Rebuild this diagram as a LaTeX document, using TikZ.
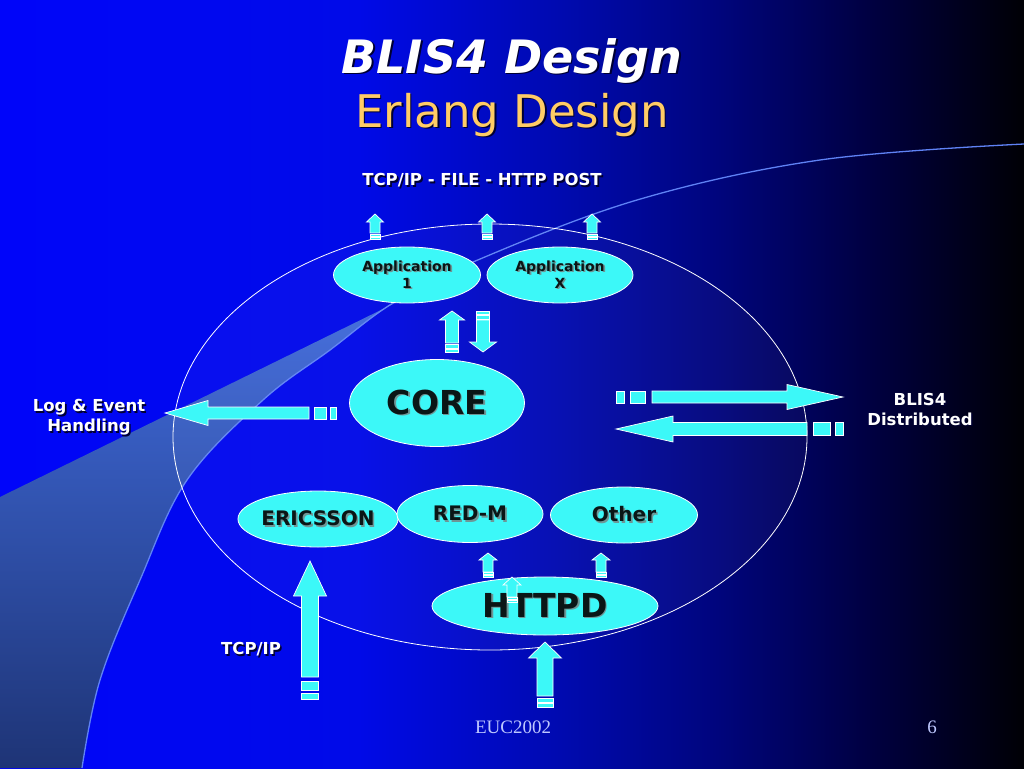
\documentclass[tikz,border=0pt]{standalone}
\usepackage{fontspec}
\setmainfont{DejaVu Sans}
\newfontfamily\footfont{Liberation Serif}
\usetikzlibrary{shapes.geometric}
\definecolor{bgA}{RGB}{0,5,250}
\definecolor{bgB}{RGB}{0,10,232}
\definecolor{bgC}{RGB}{0,10,175}
\definecolor{bgD}{RGB}{0,5,125}
\definecolor{bgE}{RGB}{0,0,65}
\definecolor{bgF}{RGB}{0,0,5}
\definecolor{bandtop}{RGB}{66,110,225}
\definecolor{bandmid}{RGB}{44,78,178}
\definecolor{bandbot}{RGB}{30,52,118}
\definecolor{swline}{RGB}{95,130,245}
\definecolor{cyfill}{RGB}{60,248,248}
\definecolor{nodetext}{RGB}{10,22,22}
\definecolor{nodeshd}{RGB}{110,150,150}
\definecolor{labshd}{RGB}{0,0,50}
\definecolor{gold}{RGB}{255,204,102}
\definecolor{footc}{RGB}{190,200,255}
\pgfdeclarehorizontalshading{bgshade}{100bp}{color(0bp)=(bgA); color(25bp)=(bgA); color(42.5bp)=(bgB); color(52.5bp)=(bgC); color(60bp)=(bgD); color(67.5bp)=(bgE); color(75bp)=(bgF); color(100bp)=(bgF)}
\newcommand\myshd[2]{\leavevmode\rlap{\kern1.6pt\raisebox{-1.6pt}{\textcolor{#1}{#2}}}#2}
\newcommand\fApp{\fontsize{14}{17}\selectfont\bfseries}
\newcommand\fMid{\fontsize{20}{24}\selectfont\bfseries}
\newcommand\fBig{\fontsize{33}{40}\selectfont\bfseries}
\newcommand\fLab{\fontsize{16.5}{20}\selectfont\bfseries}
\tikzset{
  arrowsty/.style={fill=cyfill, draw=white, line width=0.7pt},
  cy/.style={ellipse, draw=white, line width=0.8pt, fill=cyfill, inner sep=0pt, text=nodetext, align=center},
  lab/.style={text=white, font=\fLab, align=center, inner sep=0pt},
  pics/barr/.style n args={8}{code={
    \path[arrowsty] (0,-#2/2) -- ({#1-#4},-#2/2) -- ({#1-#4},-#3/2) -- (#1,0) -- ({#1-#4},#3/2) -- ({#1-#4},#2/2) -- (0,#2/2) -- cycle;
    \path[arrowsty] ({-#5-#6},-#2/2) rectangle ({-#5},#2/2);
    \path[arrowsty] ({-#5-#6-#7-#8},-#2/2) rectangle ({-#5-#6-#7},#2/2);
  }}
}
\begin{document}
\begin{tikzpicture}[x=1pt,y=-1pt]
\useasboundingbox (0,0) rectangle (1024,768);
\shade[shading=bgshade] (0,0) rectangle (1024,768);
% swoosh band
\shade[top color=bandtop, middle color=bandmid, bottom color=bandbot] (0,497) -- (440,281) -- plot[smooth, tension=0.6] coordinates {(440,281) (393,303) (330,350) (263,400) (187,480) (140,580) (100,680) (82,768)} -- (0,768) -- cycle;
\draw[swline, line width=1.3pt] plot[smooth, tension=0.6] coordinates {(82,768) (100,680) (140,580) (187,480) (263,400) (330,350) (393,303) (473,262) (637,200) (820,160) (1024,144)};
% big ellipse
\node[ellipse, draw=white, line width=0.8pt, minimum width=634pt, minimum height=426pt, fill=white, fill opacity=0.03, inner sep=0pt] (outer) at (490,437) {};
% title
\node[anchor=base, text=white, font=\fontsize{46}{55}\selectfont\bfseries\itshape, inner sep=0pt] (title1) at (512,73) {\myshd{labshd}{BLIS4 Design}};
\node[anchor=base, text=gold, font=\fontsize{45}{54}\selectfont, inner sep=0pt] (title2) at (512,127) {\myshd{labshd}{Erlang Design}};
% labels
\node[lab] (tcptop) at (482,181) {\myshd{labshd}{TCP/IP - FILE - HTTP POST}};
\node[lab] (logl) at (89,418) {\myshd{labshd}{Log \& Event}\\\myshd{labshd}{Handling}};
\node[lab] (blisl) at (920,410) {\myshd{labshd}{BLIS4}\\\myshd{labshd}{Distributed}};
\node[lab] (tcpl) at (251,650) {\myshd{labshd}{TCP/IP}};
% nodes
\node[cy, minimum width=147pt, minimum height=56pt, font=\fApp] (app1) at (407,275) {\myshd{nodeshd}{Application}\\\myshd{nodeshd}{1}};
\node[cy, minimum width=146pt, minimum height=56pt, font=\fApp] (appx) at (560,275) {\myshd{nodeshd}{Application}\\\myshd{nodeshd}{X}};
\node[cy, minimum width=175pt, minimum height=87pt, font=\fBig] (core) at (437,403) {\myshd{nodeshd}{CORE}};
\node[cy, minimum width=145pt, minimum height=56pt, font=\fMid] (ericsson) at (318,519) {\myshd{nodeshd}{ERICSSON}};
\node[cy, minimum width=146pt, minimum height=57pt, font=\fMid] (redm) at (470,514) {\myshd{nodeshd}{RED-M}};
\node[cy, minimum width=147pt, minimum height=56pt, font=\fMid] (other) at (624,515) {\myshd{nodeshd}{Other}};
\node[cy, minimum width=226pt, minimum height=58pt, font=\fBig] (httpd) at (545,606) {\myshd{nodeshd}{HTTPD}};
% block arrows
\pic[rotate=180] at (309,413) {barr={144}{12}{25}{43}{5}{12}{4}{6}};
\pic at (652,397) {barr={191}{12}{25}{56}{7}{15}{6}{8}};
\pic[rotate=180] at (807,429) {barr={191}{13}{26}{57}{6}{17}{5}{8}};
\pic[rotate=90] at (310,677) {barr={116}{17}{33}{35}{4}{9}{3}{6}};
\pic[rotate=90] at (545,696) {barr={54}{16}{33}{16}{2}{4}{1.5}{4}};
\pic[rotate=90] at (452,343) {barr={32}{13}{25}{9}{1}{4}{1}{3}};
\pic[rotate=-90] at (483,320) {barr={32}{13}{27}{10}{1}{4}{1}{3}};
\pic[rotate=90] at (375,233) {barr={19}{10}{17}{8}{1}{2.5}{1}{1.5}};
\pic[rotate=90] at (487,233) {barr={19}{10}{17}{8}{1}{2.5}{1}{1.5}};
\pic[rotate=90] at (592,233) {barr={19}{10}{17}{8}{1}{2.5}{1}{1.5}};
\pic[rotate=90] at (488,572) {barr={19}{10}{18}{7}{0.8}{2}{0.8}{1.5}};
\pic[rotate=90] at (601,572) {barr={19}{10}{18}{7}{0.8}{2}{0.8}{1.5}};
\pic[rotate=90] at (512,597) {barr={20}{10}{18}{8}{0.8}{2}{0.8}{1.5}};
% footer
\node[text=footc, font=\footfont\fontsize{19}{22}\selectfont, inner sep=0pt] (foot) at (513,727) {EUC2002};
\node[text=footc, font=\footfont\fontsize{19}{22}\selectfont, inner sep=0pt] (page) at (932,727) {6};
\end{tikzpicture}
\end{document}
